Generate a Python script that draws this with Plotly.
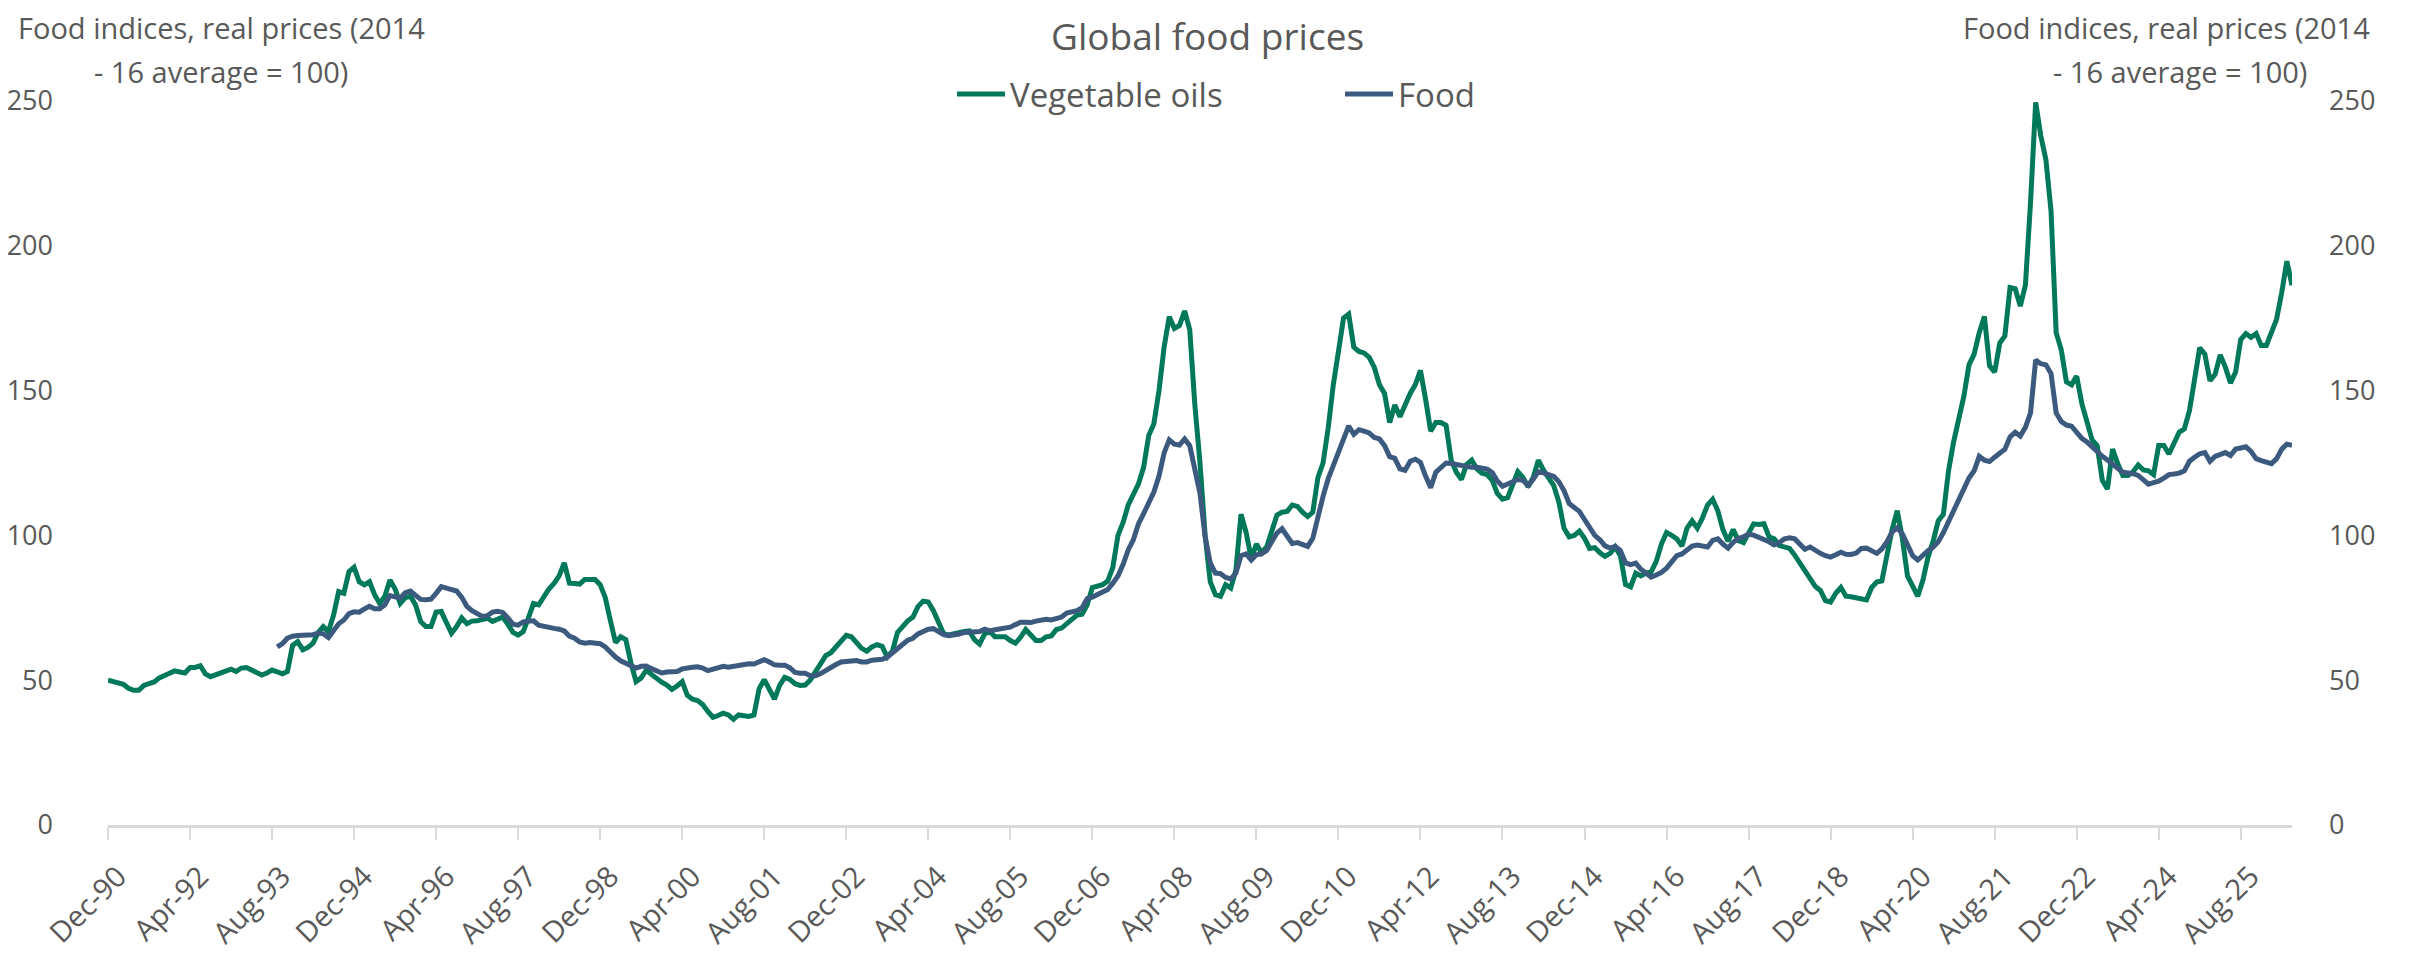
import pandas as pd
import plotly.graph_objects as go

# ---------------- data ----------------
start_month = "1990-12"
food_start_index = 33  # Food series begins Sep-93

veg_oils = [
    50.0,
    49.5, 48.7, 48.6, 47.2, 46.5, 46.5, 48.2, 48.8, 49.4, 50.8, 51.8, 52.4,
    53.2, 53.0, 52.5, 54.4, 54.4, 55.0, 52.2, 51.2, 51.8, 52.4, 52.8, 53.8,
    53.0, 54.2, 54.4, 53.5, 52.6, 51.8, 52.5, 53.5, 52.9, 52.2, 53.0, 62.0,
    63.3, 60.5, 61.3, 62.8, 66.5, 68.5, 66.8, 72.5, 80.6, 80.0, 87.5, 89.0,
    84.0, 82.9, 84.0, 79.5, 76.5, 79.0, 84.6, 81.5, 76.5, 78.5, 79.0, 76.0,
    70.2, 68.5, 68.5, 73.5, 73.7, 70.0, 66.2, 68.5, 71.5, 69.5, 70.4, 70.5,
    71.0, 71.4, 70.3, 71.0, 71.8, 69.3, 66.5, 65.6, 66.8, 71.5, 76.5, 76.0,
    79.0, 81.5, 83.4, 86.0, 90.5, 83.5, 83.4, 83.2, 84.8, 85.0, 84.8, 83.0,
    78.5, 70.5, 63.0, 65.0, 64.0, 56.0, 49.5, 50.8, 53.5, 52.0, 50.5, 49.3,
    48.3, 46.8, 48.0, 49.5, 44.8, 43.4, 43.0, 41.6, 39.2, 37.2, 37.8, 38.6,
    38.0, 36.5, 38.0, 37.8, 37.5, 38.0, 47.0, 50.2, 47.0, 43.5, 48.2, 51.0,
    50.3, 48.8, 48.2, 48.3, 50.1, 52.9, 56.1, 58.5, 59.5, 61.5, 64.0, 65.5,
    65.0, 63.2, 61.0, 60.0, 61.5, 62.3, 61.7, 58.0, 60.0, 66.5, 68.5, 70.5,
    71.8, 75.5, 77.3, 77.0, 74.0, 69.5, 66.0, 65.6, 66.0, 66.8, 66.8, 67.0,
    64.0, 62.5, 66.0, 66.8, 65.0, 65.0, 65.0, 63.7, 62.8, 64.8, 67.5, 65.6,
    63.7, 63.7, 65.0, 65.3, 67.5, 68.0, 69.5, 71.2, 72.5, 72.8, 76.0, 82.0,
    82.6, 83.0, 84.2, 89.0, 100.0, 104.5, 110.5, 114.5, 117.8, 123.5, 134.5, 138.5,
    150.0, 165.0, 175.5, 171.5, 172.5, 177.5, 171.0, 145.0, 125.0, 100.0, 84.0, 79.5,
    79.0, 83.0, 81.8, 88.0, 107.3, 101.0, 92.0, 97.0, 94.0, 96.0, 101.0, 107.0,
    108.0, 108.3, 110.5, 110.0, 108.0, 106.5, 108.0, 120.0, 125.0, 137.0, 152.0, 165.0,
    175.0, 176.4, 165.0, 163.5, 163.0, 161.5, 158.0, 152.0, 149.0, 139.0, 145.0, 141.0,
    145.5, 149.0, 152.0, 157.0, 147.0, 136.0, 139.0, 139.0, 138.0, 126.0, 121.8, 119.3,
    124.5, 126.0, 123.0, 121.5, 121.0, 119.0, 114.5, 112.5, 113.0, 117.0, 122.0, 120.0,
    116.8, 120.0, 126.0, 122.5, 120.0, 117.2, 111.5, 102.5, 99.5, 100.0, 101.5, 99.0,
    95.5, 95.8, 94.0, 92.8, 93.8, 96.0, 93.0, 83.0, 82.2, 87.0, 86.0, 87.0,
    87.4, 91.0, 97.0, 101.0, 100.0, 98.8, 96.3, 102.5, 105.0, 102.5, 106.0, 110.5,
    112.5, 108.5, 102.0, 98.0, 102.0, 98.2, 97.5, 100.5, 104.0, 103.8, 104.0, 99.5,
    98.8, 96.5, 95.8, 95.5, 93.2, 90.5, 87.5, 84.8, 82.4, 81.0, 77.5, 77.0,
    80.0, 82.0, 79.0, 78.8, 78.5, 78.0, 77.7, 82.0, 83.9, 84.3, 93.6, 102.0,
    108.5, 99.0, 86.0, 82.0, 79.0, 84.5, 92.5, 98.0,
    105.0, 107.3, 122.3, 132.3, 140.6, 148.1, 158.9, 162.6, 170.0, 175.6, 158.6, 156.4,
    166.4, 168.9, 185.6, 185.2, 179.2, 186.4, 215.0, 249.5, 238.0, 229.7, 212.0, 170.0,
    164.0, 153.0, 152.0, 155.0, 145.6, 139.0, 133.0, 131.0, 119.0, 116.0, 129.8, 124.8,
    120.7, 120.7, 122.0, 124.3, 122.6, 122.3, 121.0, 131.0, 131.0, 128.1, 132.3, 135.6,
    136.8, 143.1, 153.9, 164.8, 162.6, 153.4, 155.6, 162.3, 158.1, 152.6, 156.4, 167.6,
    169.7, 168.4, 169.7, 165.6, 165.6, 169.7, 174.7, 183.9, 194.7, 186.4,
]

food = [
    61.5, 62.6, 64.5, 65.2,
    65.4, 65.4, 65.3, 65.7, 66.3, 66.0, 64.7, 67.0, 69.5, 70.8, 73.0, 73.6,
    73.5, 74.6, 75.5, 74.7, 74.7, 76.0, 79.2, 78.8, 78.3, 80.2, 80.8, 79.3,
    77.9, 77.8, 78.0, 80.0, 82.3, 81.8, 81.3, 80.8, 78.6, 75.5, 74.0, 73.0,
    72.0, 72.3, 73.5, 73.8, 73.4, 71.5, 69.3, 69.0, 70.1, 70.4, 70.5, 69.0,
    68.5, 68.4, 67.9, 67.6, 67.0, 65.2, 64.5, 63.2, 62.8, 63.0, 63.0, 62.6,
    61.5, 59.5, 58.0, 56.7, 56.0, 55.2, 54.2, 54.8, 54.9, 54.0, 53.3, 52.5,
    52.8, 52.9, 53.0, 53.9, 54.3, 54.5, 54.6, 54.2, 53.3, 53.8, 54.3, 54.8,
    54.5, 54.8, 55.4, 55.5, 55.7, 55.6, 56.5, 57.1, 56.3, 55.3, 55.2, 55.2,
    54.3, 52.7, 52.4, 52.4, 51.5, 51.5, 52.3, 53.5, 54.5, 55.4, 56.3, 56.6,
    56.5, 56.8, 56.3, 56.3, 56.9, 57.0, 57.2, 58.0, 59.5, 60.8, 62.3, 63.8,
    64.5, 66.0, 66.8, 67.6, 67.8, 66.8, 65.7, 65.4, 65.5, 65.9, 66.5, 66.6,
    66.6, 66.8, 67.6, 67.0, 67.4, 67.8, 68.1, 68.3, 69.2, 70.0, 70.0, 69.9,
    70.4, 70.9, 71.0, 70.8, 71.4, 71.8, 73.2, 73.6, 74.0, 75.0, 78.2, 78.7,
    79.7, 80.5, 81.3, 83.5, 86.0, 90.0, 95.0, 98.5, 104.0, 107.5, 110.8, 115.0,
    120.5, 128.5, 133.0, 131.5, 131.2, 133.3, 131.0, 123.5, 114.5, 99.5, 90.5, 87.0,
    86.8, 85.5, 85.0, 87.0, 93.0, 93.6, 91.5, 93.3, 93.6, 94.8, 98.2, 100.8,
    102.3, 100.0, 97.2, 97.5, 96.8, 96.2, 99.0, 106.5, 113.5, 119.5, 124.0, 128.8,
    133.0, 137.8, 134.9, 136.5, 136.0, 135.4, 133.8, 133.3, 131.0, 127.2, 126.6, 123.0,
    122.5, 125.6, 126.3, 125.2, 120.5, 116.5, 121.8, 123.5, 125.0, 124.8, 124.4, 124.1,
    123.7, 123.5, 123.5, 123.3, 122.9, 121.7, 118.8, 117.0, 117.8, 118.7, 119.3, 119.0,
    117.3, 119.4, 122.0, 121.6, 120.8, 120.4, 118.5, 115.5, 111.0, 109.8, 108.3, 105.5,
    102.5, 100.0, 98.5, 96.4, 95.6, 96.2, 94.8, 90.5, 89.9, 90.4, 88.3, 86.8,
    85.6, 86.3, 87.2, 88.7, 90.6, 93.0, 93.6, 94.8, 96.3, 96.7, 96.3, 96.0,
    98.3, 98.8, 97.0, 95.6, 97.6, 98.9, 99.5, 100.4, 100.1, 99.4, 98.8, 97.8,
    96.7, 97.5, 98.8, 99.2, 98.8, 96.9, 95.2, 96.0, 94.8, 93.8, 93.0, 92.5,
    93.3, 94.2, 93.5, 93.4, 93.9, 95.5, 95.6, 94.7, 93.8, 95.3, 97.8, 101.2,
    102.6, 100.5, 96.5, 93.0, 91.5, 93.3, 94.7, 96.0,
    97.8, 101.0, 104.8, 109.0, 113.2, 116.5, 119.8, 122.3, 127.3, 126.0, 125.5, 127.0,
    128.6, 129.8, 134.0, 135.6, 134.3, 137.3, 142.3, 160.6, 159.3, 158.9, 155.9, 142.3,
    139.3, 138.1, 137.7, 135.5, 133.5, 132.3, 130.6, 128.6, 127.3, 126.0, 124.8, 123.2,
    121.8, 121.6, 121.3, 120.7, 119.0, 117.7, 118.2, 118.7, 119.8, 121.0, 121.2, 121.5,
    122.3, 125.6, 127.0, 128.2, 128.6, 125.6, 127.3, 128.0, 128.6, 127.6, 129.8, 130.2,
    130.6, 129.0, 126.5, 125.8, 125.2, 124.8, 126.5, 129.8, 131.5, 131.1,
]

tick_step = 16
months = pd.period_range(start_month, periods=len(veg_oils), freq="M")
month_labels = [p.strftime("%b-%y") for p in months]

# ---------------- figure ----------------
# The page body has an 8px default margin, so the figure is drawn 8px in from
# the window's top-left corner; sizes/positions below compensate for that.
OFF = 8
W, H = 2410 - OFF, 959 - OFF
PLOT_L, PLOT_R, PLOT_T, PLOT_B = 108, 2292, 101, 825  # window pixels
ML, MR = PLOT_L - OFF, W - (PLOT_R - OFF)
MT, MB = PLOT_T - OFF, H - (PLOT_B - OFF)
PW, PH = W - ML - MR, H - MT - MB


def px_x(px):
    return (px - OFF - ML) / PW


def px_y(py):
    return (H - MB - (py - OFF)) / PH


GREEN = "#00785A"
NAVY = "#3C5A7E"
TXT = "#595959"
FONT = "Open Sans"

x_veg = list(range(len(veg_oils)))
x_food = list(range(food_start_index, food_start_index + len(food)))

fig = go.Figure()
fig.add_trace(go.Scatter(
    x=x_veg, y=veg_oils, name="Vegetable oils", mode="lines",
    line=dict(color=GREEN, width=5), yaxis="y",
    customdata=month_labels, hovertemplate="%{customdata}: %{y}<extra></extra>",
))
fig.add_trace(go.Scatter(
    x=x_food, y=food, name="Food", mode="lines",
    line=dict(color=NAVY, width=5), yaxis="y2",
    customdata=month_labels[food_start_index:],
    hovertemplate="%{customdata}: %{y}<extra></extra>",
))

tickvals = list(range(0, len(veg_oils), tick_step))
ticktext = [month_labels[i] for i in tickvals]

fig.update_layout(
    width=W, height=H,
    margin=dict(l=ML, r=MR, t=MT, b=MB, autoexpand=False),
    paper_bgcolor="white", plot_bgcolor="white",
    font=dict(family=FONT, color=TXT, size=28),
    showlegend=True,
    legend=dict(
        orientation="h", x=px_x(952), y=px_y(94), xanchor="left", yanchor="middle",
        font=dict(size=33, color=TXT), entrywidth=325, entrywidthmode="pixels",
        itemwidth=48, bgcolor="rgba(0,0,0,0)",
    ),
    xaxis=dict(
        range=[0, len(veg_oils) - 1], tickmode="array", tickvals=tickvals, ticktext=ticktext,
        tickangle=-45, ticks="outside", ticklen=12, tickwidth=2, tickcolor="#D9D9D9",
        showline=True, linecolor="#D9D9D9", linewidth=3, showgrid=False, zeroline=False,
        tickfont=dict(size=29, color=TXT, family=FONT), automargin=False,
        ticklabelstandoff=8, ticklabelshift=10,
    ),
    yaxis=dict(
        range=[0, 250], dtick=50, tick0=0, showgrid=False, zeroline=False, showline=False,
        ticks="", ticklabelstandoff=54, tickfont=dict(size=27, color=TXT, family=FONT),
        automargin=False,
    ),
    yaxis2=dict(
        range=[0, 250], dtick=50, tick0=0, overlaying="y", side="right", showgrid=False,
        zeroline=False, showline=False, ticks="", ticklabelstandoff=36,
        tickfont=dict(size=27, color=TXT, family=FONT), automargin=False,
    ),
    annotations=[
        dict(text="Global food prices", x=px_x(1207), y=px_y(35), xref="paper", yref="paper",
             showarrow=False, xanchor="center", yanchor="middle", borderpad=0,
             font=dict(size=37, color=TXT, family=FONT)),
        dict(text="Food indices, real prices (2014", x=px_x(221), y=px_y(27), xref="paper",
             yref="paper", showarrow=False, xanchor="center", yanchor="middle",
             font=dict(size=29, color=TXT, family=FONT)),
        dict(text="- 16 average = 100)", x=px_x(221), y=px_y(71), xref="paper",
             yref="paper", showarrow=False, xanchor="center", yanchor="middle",
             font=dict(size=29, color=TXT, family=FONT)),
        dict(text="Food indices, real prices (2014", x=px_x(2166), y=px_y(27), xref="paper",
             yref="paper", showarrow=False, xanchor="center", yanchor="middle",
             font=dict(size=29, color=TXT, family=FONT)),
        dict(text="- 16 average = 100)", x=px_x(2180), y=px_y(71), xref="paper",
             yref="paper", showarrow=False, xanchor="center", yanchor="middle",
             font=dict(size=29, color=TXT, family=FONT)),
    ],
)

fig.write_html("out.html")
